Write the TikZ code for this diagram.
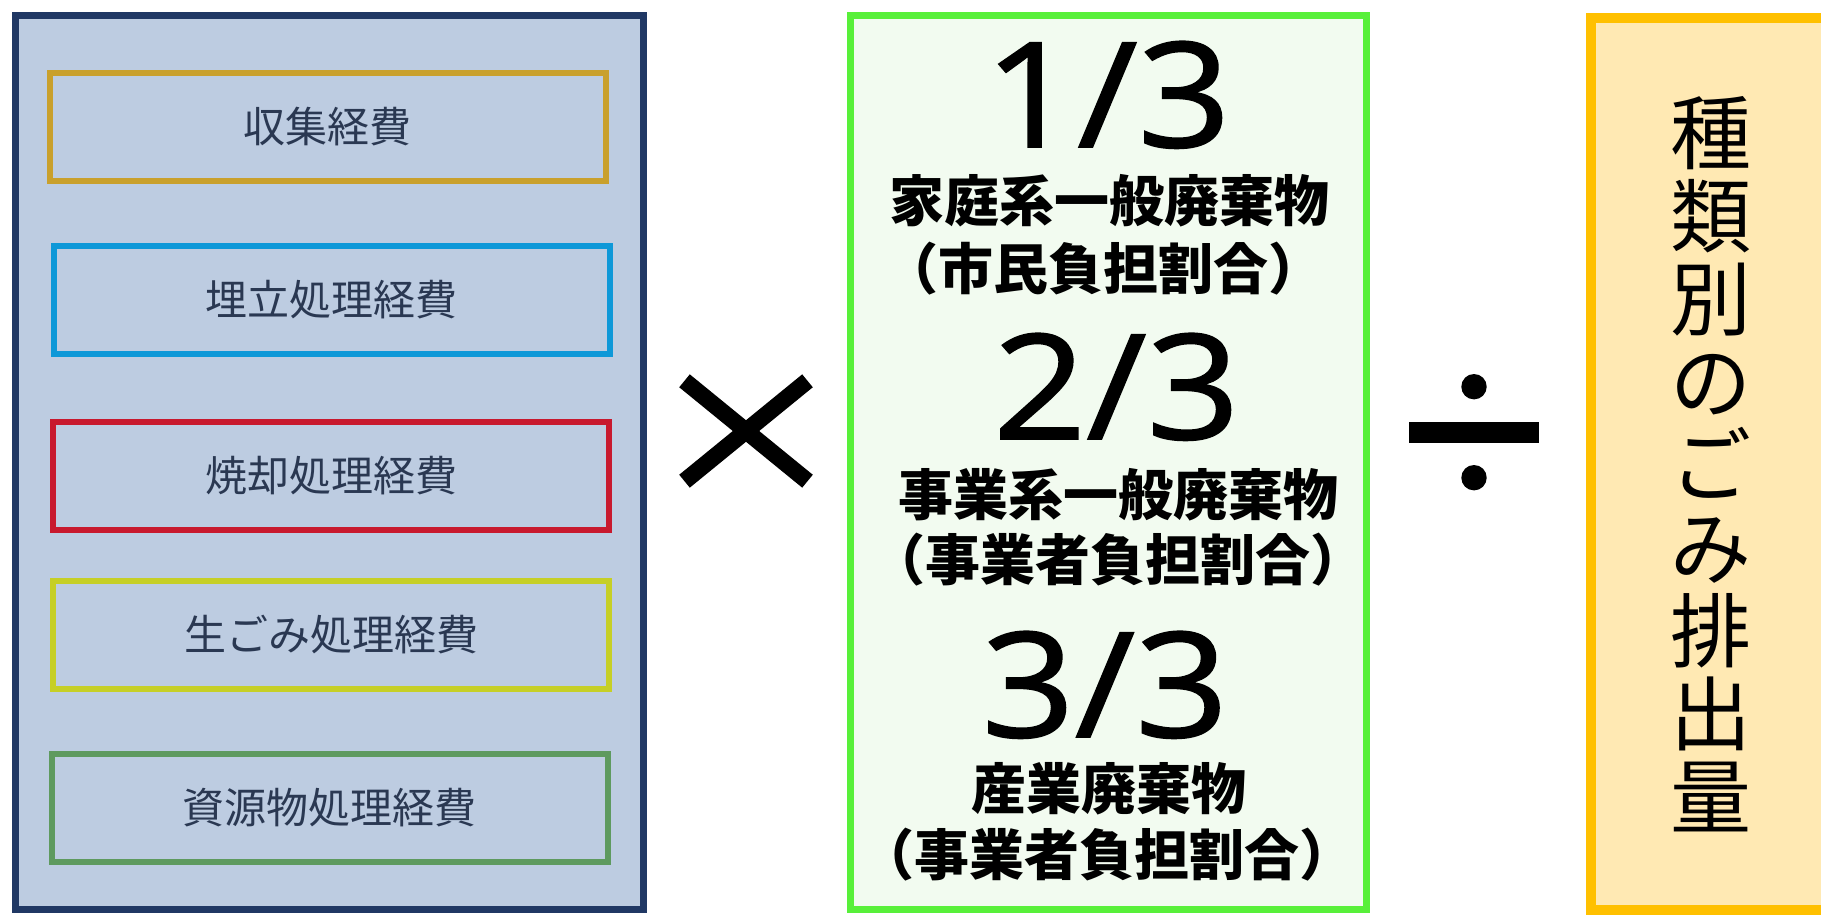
\documentclass[tikz,border=0pt]{standalone}
\usepackage{fontspec}
\newfontfamily\jp{Noto Sans CJK JP}
\newfontfamily\numfont{Open Sans}[FakeStretch=1.12, FakeBold=1.2]
\definecolor{navy}{HTML}{203864}
\definecolor{leftfill}{HTML}{BDCCE1}
\definecolor{costtext}{HTML}{2A3852}
\definecolor{cgold}{HTML}{C9A02C}
\definecolor{cblue}{HTML}{0E98D8}
\definecolor{cred}{HTML}{C8192E}
\definecolor{cyell}{HTML}{C6CF26}
\definecolor{cgreen}{HTML}{5E9A5F}
\definecolor{midborder}{HTML}{58F03A}
\definecolor{midfill}{HTML}{F2FBF0}
\definecolor{rborder}{HTML}{FFC000}
\definecolor{rfill}{HTML}{FFE9B3}
\begin{document}
\begin{tikzpicture}[x=1pt,y=-1pt,
  panel/.style={line width=7pt, inner sep=0pt, minimum height=894pt},
  costbox/.style={draw, line width=6pt, minimum width=556pt, minimum height=108pt,
    inner sep=0pt, font=\jp\fontsize{42}{50}\selectfont, text=costtext},
  midtxt/.style={font=\jp\bfseries\fontsize{55}{60}\selectfont, anchor=base, inner sep=0pt,
    text height=47pt, text depth=5pt},
  fractxt/.style={font=\numfont\fontsize{146}{150}\selectfont, anchor=base, inner sep=0pt,
    text height=108pt, text depth=6pt},
  opstroke/.style={line width=16.7pt}]
\useasboundingbox (0,0) rectangle (1821,915);
% left panel
\node[panel, draw=navy, fill=leftfill, minimum width=628pt] (left) at (329.5,462.5) {};
\node[costbox, draw=cgold]  (c1) at (327.5,126.6) {収集経費};
\node[costbox, draw=cblue]  (c2) at (331.5,299.6) {埋立処理経費};
\node[costbox, draw=cred]   (c3) at (331,476) {焼却処理経費};
\node[costbox, draw=cyell]  (c4) at (331,635) {生ごみ処理経費};
\node[costbox, draw=cgreen] (c5) at (329.5,807.5) {資源物処理経費};
% times sign
\coordinate (times) at (746,431);
\draw[opstroke] ([shift={(-61.5,-50.2)}]times) -- ([shift={(61.5,50.2)}]times);
\draw[opstroke] ([shift={(61.5,-50.2)}]times) -- ([shift={(-61.5,50.2)}]times);
% middle panel
\node[panel, draw=midborder, fill=midfill, minimum width=516pt] (mid) at (1108.5,462.5) {};
\node[fractxt] (f1) at (1107.5,147) {1/3};
\node[midtxt] (t1a) at (1109,222) {家庭系一般廃棄物};
\node[midtxt] (t1b) at (1103,289) {（市民負担割合）};
\node[fractxt] (f2) at (1116.5,439) {2/3};
\node[midtxt] (t2a) at (1118,515) {事業系一般廃棄物};
\node[midtxt] (t2b) at (1118,580) {（事業者負担割合）};
\node[fractxt] (f3) at (1105,737) {3/3};
\node[midtxt] (t3a) at (1109,809) {産業廃棄物};
\node[midtxt] (t3b) at (1107,875) {（事業者負担割合）};
% divide sign
\coordinate (divide) at (1474,432.5);
\fill ([shift={(-65,-10.3)}]divide) rectangle ([shift={(65,10.3)}]divide);
\fill ([shift={(0,-45.8)}]divide) circle[radius=12.7pt];
\fill ([shift={(0,45.2)}]divide) circle[radius=12.7pt];
% right panel
\node[draw=rborder, fill=rfill, line width=10pt, inner sep=0pt, minimum width=239pt, minimum height=891pt,
  align=center, font=\jp\fontsize{81}{83}\selectfont] (right) at (1710.5,464)
  {種\\類\\別\\の\\ご\\み\\排\\出\\量};
\end{tikzpicture}
\end{document}
